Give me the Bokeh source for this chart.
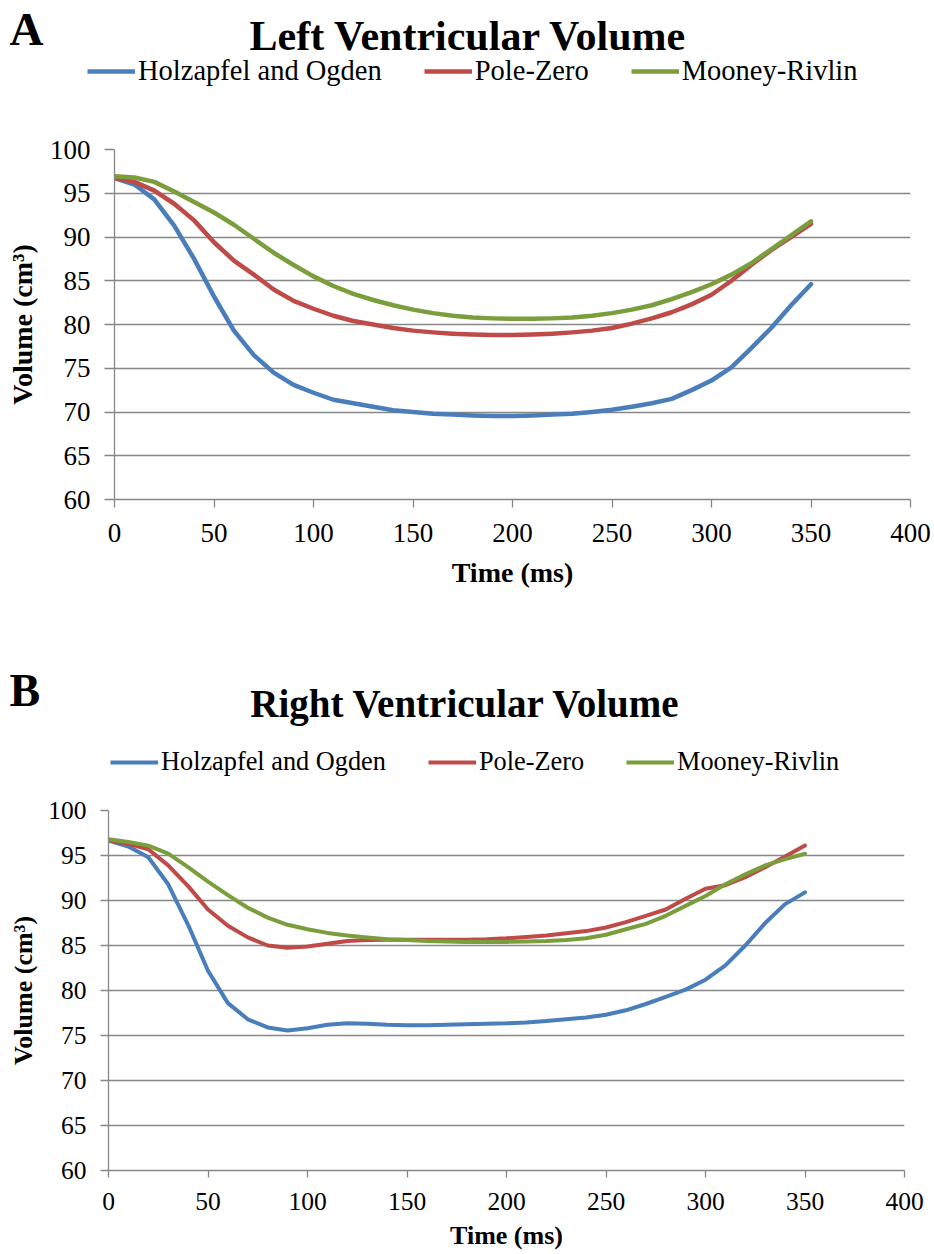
import numpy as np
from bokeh.plotting import figure
from bokeh.models import (ColumnDataSource, Range1d, FixedTicker, Legend, LegendItem)
from bokeh.core.properties import value
from bokeh.layouts import column
from bokeh.embed import file_html
from bokeh.resources import INLINE

# ---------------- data ----------------
time_ms = [0, 10, 20, 30, 40, 50, 60, 70, 80, 90, 100, 110, 120, 130, 140, 150, 160, 170,
           180, 190, 200, 210, 220, 230, 240, 250, 260, 270, 280, 290, 300, 310, 320, 330, 340, 350]

lv_holzapfel = [96.75, 96.0, 94.3, 91.3, 87.5, 83.2, 79.3, 76.5, 74.5, 73.1, 72.2, 71.4, 71.0, 70.6,
                70.2, 70.0, 69.8, 69.7, 69.6, 69.55, 69.55, 69.6, 69.7, 69.8, 70.0, 70.25, 70.6, 71.0,
                71.5, 72.5, 73.6, 75.1, 77.3, 79.6, 82.2, 84.6]
lv_polezero = [96.75, 96.3, 95.3, 93.8, 91.9, 89.4, 87.3, 85.7, 84.0, 82.7, 81.8, 81.0, 80.4, 80.0,
               79.6, 79.3, 79.1, 78.95, 78.85, 78.8, 78.8, 78.85, 78.95, 79.1, 79.3, 79.6, 80.1, 80.7,
               81.4, 82.3, 83.4, 85.0, 86.8, 88.5, 90.0, 91.5]
lv_mooney = [96.95, 96.8, 96.3, 95.2, 94.0, 92.8, 91.4, 89.8, 88.2, 86.8, 85.5, 84.4, 83.5, 82.8,
             82.2, 81.7, 81.3, 81.0, 80.8, 80.7, 80.65, 80.65, 80.7, 80.8, 81.0, 81.3, 81.7, 82.2,
             82.9, 83.7, 84.6, 85.7, 87.0, 88.6, 90.2, 91.8]

rv_holzapfel = [96.67, 96.0, 94.8, 91.8, 87.3, 82.2, 78.6, 76.8, 75.9, 75.55, 75.8, 76.2, 76.35, 76.3,
                76.2, 76.15, 76.15, 76.2, 76.25, 76.3, 76.35, 76.45, 76.6, 76.8, 77.0, 77.3, 77.8, 78.5,
                79.3, 80.1, 81.2, 82.8, 85.0, 87.5, 89.6, 90.9]
rv_polezero = [96.7, 96.3, 95.7, 93.9, 91.6, 89.0, 87.2, 85.9, 85.0, 84.75, 84.9, 85.2, 85.5, 85.6,
               85.65, 85.65, 85.65, 85.65, 85.65, 85.7, 85.8, 85.95, 86.1, 86.35, 86.6, 87.0, 87.6, 88.3,
               89.0, 90.2, 91.3, 91.7, 92.6, 93.7, 94.9, 96.1]
rv_mooney = [96.8, 96.5, 96.1, 95.2, 93.7, 92.1, 90.6, 89.2, 88.1, 87.3, 86.8, 86.4, 86.1, 85.9,
             85.7, 85.6, 85.5, 85.45, 85.4, 85.4, 85.4, 85.45, 85.5, 85.6, 85.8, 86.2, 86.8, 87.4,
             88.3, 89.4, 90.5, 91.8, 92.9, 93.9, 94.6, 95.2]

series_names = ["Holzapfel and Ogden", "Pole-Zero", "Mooney-Rivlin"]
x_ticks = [0, 50, 100, 150, 200, 250, 300, 350, 400]
y_ticks = [60, 65, 70, 75, 80, 85, 90, 95, 100]

COLORS = ["#4A7EBB", "#BE4B48", "#7A9E3B"]
GRID = "#878787"
SERIF = "Liberation Serif"
W = 934


def make_header(letter, title, height, letter_pos, letter_fs, title_pos, title_fs,
                legend_loc, legend_fs, lw):
    h = figure(width=W, height=height, output_backend="svg", toolbar_location=None,
               x_range=Range1d(0, W), y_range=Range1d(height, 0),
               x_axis_type=None, y_axis_type=None, min_border=0, title=None,
               frame_align=False)
    h.outline_line_color = None
    h.xgrid.visible = False
    h.ygrid.visible = False
    h.text(x=[letter_pos[0]], y=[letter_pos[1]], text=[letter], text_font=value(SERIF),
           text_font_style="bold", text_font_size=letter_fs, text_align="left",
           text_baseline="middle", text_color="#000000")
    h.text(x=[title_pos[0]], y=[title_pos[1]], text=[title], text_font=value(SERIF),
           text_font_style="bold", text_font_size=title_fs, text_align="center",
           text_baseline="middle", text_color="#000000")
    # legend proxies (one NaN point each, nothing drawn in the header itself)
    rends = [h.line(x=[np.nan], y=[np.nan], line_color=c, line_width=lw) for c in COLORS]
    legend = Legend(items=[LegendItem(label=n, renderers=[r]) for n, r in zip(series_names, rends)],
                    orientation="horizontal", location=legend_loc,
                    glyph_width=48, glyph_height=30, label_standoff=3, spacing=42,
                    padding=0, margin=0, border_line_color=None, background_fill_alpha=0,
                    label_text_font=SERIF, label_text_font_size=legend_fs,
                    label_text_color="#000000", label_height=30)
    h.add_layout(legend)
    return h


def make_plot(series, height, left, top, bottom, tick_fs, lab_fs, lw, ytick_out, xtick_out,
              x_std, y_std, xlab_std, ylab_std):
    p = figure(width=W, height=height, output_backend="svg", toolbar_location=None,
               x_range=Range1d(0, 400), y_range=Range1d(60, 100),
               min_border_left=left, min_border_right=W - left - 796,
               min_border_top=top, min_border_bottom=bottom, title=None,
               x_axis_label="Time (ms)", y_axis_label="Volume (cm\u00b3)",
               frame_align=False)
    p.outline_line_color = None
    p.xgrid.grid_line_color = None
    p.ygrid.grid_line_color = GRID
    p.ygrid.grid_line_width = 1.3
    p.ygrid.ticker = FixedTicker(ticks=y_ticks)
    p.xaxis.ticker = FixedTicker(ticks=x_ticks)
    p.yaxis.ticker = FixedTicker(ticks=y_ticks)
    for ax in (p.xaxis[0], p.yaxis[0]):
        ax.axis_line_color = GRID
        ax.axis_line_width = 1.3
        ax.major_tick_line_color = GRID
        ax.major_tick_line_width = 1.3
        ax.minor_tick_line_color = None
        ax.major_tick_in = 0
        ax.major_label_text_font = SERIF
        ax.major_label_text_font_size = tick_fs
        ax.major_label_text_color = "#000000"
        ax.axis_label_text_font = SERIF
        ax.axis_label_text_font_style = "bold"
        ax.axis_label_text_font_size = lab_fs
        ax.axis_label_text_color = "#000000"
    p.yaxis.major_tick_out = ytick_out
    p.xaxis.major_tick_out = xtick_out
    p.yaxis.major_label_standoff = y_std
    p.xaxis.major_label_standoff = x_std
    p.xaxis.axis_label_standoff = xlab_std
    p.yaxis.axis_label_standoff = ylab_std

    src = ColumnDataSource(dict(t=time_ms, a=series[0], b=series[1], c=series[2]))
    for key, col in zip(["a", "b", "c"], COLORS):
        p.line("t", key, source=src, line_color=col, line_width=lw,
               line_join="round", line_cap="round")
    return p


hA = make_header("A", "Left Ventricular Volume", 110, (9, 28), "47px", (468, 35), "42px",
                 (87, 23), "28.5px", 4.5)
pA = make_plot([lv_holzapfel, lv_polezero, lv_mooney], height=520, left=114, top=39, bottom=131,
               tick_fs="27px", lab_fs="28px", lw=4.5, ytick_out=10, xtick_out=8,
               x_std=16, y_std=14, xlab_std=12, ylab_std=9)

hB = make_header("B", "Right Ventricular Volume", 160, (9, 60), "46px", (465, 73), "39px",
                 (110, 13), "26.3px", 4.0)
pB = make_plot([rv_holzapfel, rv_polezero, rv_mooney], height=464, left=108, top=20, bottom=84,
               tick_fs="25.5px", lab_fs="26px", lw=4.0, ytick_out=8, xtick_out=7,
               x_std=15, y_std=14, xlab_std=8, ylab_std=7)

layout = column(hA, pA, hB, pB, spacing=0)
open("out.html", "w").write(file_html(layout, INLINE))
